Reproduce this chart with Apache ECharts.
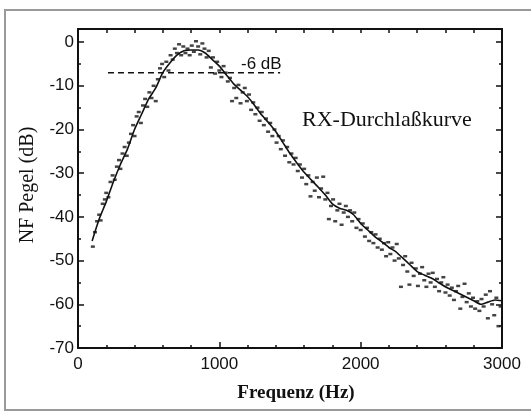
<!DOCTYPE html>
<html><head><meta charset="utf-8">
<script src="https://cdn.jsdelivr.net/npm/echarts@6/dist/echarts.min.js"></script>
<style>html,body{margin:0;padding:0;background:#fff}#c{width:531px;height:412px}</style>
</head><body><div id="c"></div>
<script>
// smoothed curve
const lineFreq = [100,150,200,250,300,350,400,450,500,550,600,650,700,750,800,850,900,950,1000,1050,1100,1150,1200,1250,1300,1350,1400,1450,1500,1550,1600,1650,1700,1750,1800,1850,1900,1950,2000,2050,2100,2150,2200,2250,2300,2350,2400,2450,2500,2550,2600,2650,2700,2750,2800,2850,2900,2950,3000];
const lineLevel = [-45.5,-40.5,-36.5,-32,-28,-24.5,-20,-16.5,-13,-10.5,-7,-4.8,-3,-2,-1.8,-1.8,-2.5,-4,-5.5,-7.5,-9.5,-11,-12.5,-14.5,-16.7,-18.5,-20.5,-23,-25.5,-27.7,-29.8,-31.5,-33.2,-35,-37,-38,-38.5,-39.5,-41.5,-43,-44.5,-45.7,-47,-48,-49.5,-51,-52.5,-53.3,-54,-55,-56,-56.8,-57.6,-58.4,-59.2,-60,-59.5,-59,-59.2];
// measured points
const dotFreq = [105,120,135,150,160,175,190,200,215,230,245,260,275,290,300,315,330,345,360,375,390,400,415,430,445,460,475,490,505,520,535,550,565,580,595,610,625,640,655,670,685,700,715,730,745,760,775,790,805,820,835,850,865,880,895,910,925,940,955,970,985,1000,1015,1030,1045,1060,1075,1090,1105,1120,1135,1150,1165,1180,1195,1210,1225,1240,1255,1270,1285,1300,1315,1330,1345,1360,1375,1390,1405,1420,1435,1450,1465,1480,1495,1510,1525,1540,1555,1570,1585,1600,1615,1630,1645,1660,1675,1690,1705,1720,1735,1750,1765,1775,1790,1805,1820,1835,1850,1865,1880,1895,1910,1925,1940,1955,1970,1985,2000,2015,2030,2045,2060,2075,2090,2105,2120,2135,2150,2165,2180,2195,2210,2225,2240,2255,2270,2285,2300,2315,2330,2345,2360,2375,2390,2405,2420,2435,2450,2465,2480,2495,2510,2525,2540,2555,2570,2585,2600,2615,2630,2645,2660,2675,2690,2705,2720,2735,2750,2765,2780,2795,2810,2825,2840,2855,2870,2885,2900,2915,2930,2945,2960,2975,2990];
const dotLevel = [-46.8,-43.5,-41,-39.5,-40.8,-37,-36,-34.5,-35.5,-32,-30.5,-31.5,-28.5,-27,-29,-25.5,-24,-26,-23,-21,-19,-21.5,-17,-16,-18.5,-14.5,-13,-14.8,-11.5,-12.8,-10,-13.5,-8.5,-6,-5,-8,-4.5,-6.5,-3,-4,-1.5,-2.5,-0.5,-3,-1,-2.5,-1.5,-3,-0.8,-2.2,0.2,-1,-2.8,-0.3,-1.5,-3.5,-2,-5.8,-3.5,-7.2,-4.5,-6.5,-8,-5.5,-7,-9,-8.2,-13.5,-10.5,-12.8,-9.8,-14,-11.5,-10.5,-13.5,-12,-15.5,-13.8,-16.5,-15,-18,-16,-19,-17.5,-20.5,-18.5,-21.5,-20,-23,-21.5,-24.5,-22.5,-26,-24,-27.5,-25.5,-28,-26.5,-29.5,-28,-31,-29,-32.5,-30.5,-35.3,-32,-34,-31,-35.5,-33.5,-30.8,-36,-34.5,-40.5,-37.5,-36,-41,-38.5,-37,-41.8,-39,-37.5,-40,-38.5,-41,-39,-42.5,-40.5,-43,-41.5,-44.5,-42.5,-45.5,-43.5,-46,-44,-47,-45,-47.5,-46,-49,-45.8,-48.5,-47,-50,-46.2,-49.5,-56,-51,-49,-52.5,-55.5,-50.5,-53.5,-51.8,-55.8,-53,-51.5,-54.5,-56,-53,-55,-52.8,-56,-54.2,-57,-55,-53.8,-57.3,-55.5,-58,-56.2,-59,-57,-55.8,-61,-58.3,-55.3,-59.5,-57.5,-60.5,-58.5,-61,-59.3,-61.5,-58.8,-60.5,-57.8,-63.2,-57,-60,-62.5,-58.5,-65,-60.5];
// -6 dB reference
const refFreq = [212,1430];
const refLevel = [-7,-7];
const xTicks = [0,1000,2000,3000];

const zip = (a,b)=>a.map((v,i)=>[v,b[i]]);
const chart = echarts.init(document.getElementById('c'), null, {renderer:'canvas'});
const labelFont = {fontFamily:'"Liberation Sans", Arial, sans-serif', fontSize:17, color:'#111'};
const axisCommon = {
  axisLine:{show:true, onZero:false, lineStyle:{color:'#111', width:2}},
  splitLine:{show:false},
};
chart.setOption({
  animation:false,
  backgroundColor:'#fff',
  grid:{left:78, right:29, top:29, bottom:64},
  xAxis:[
    Object.assign({type:'value', min:0, max:3000, interval:1000, position:'bottom',
      axisTick:{inside:true, length:6, lineStyle:{color:'#111', width:1.5}},
      minorTick:{show:true, splitNumber:5, length:3, lineStyle:{color:'#111', width:1.5}},
      axisLabel:Object.assign({margin:8, formatter:v=>xTicks.includes(v)?String(v):''}, labelFont)}, axisCommon),
    Object.assign({type:'value', min:0, max:3000, interval:1000, position:'top',
      axisTick:{inside:true, length:4, lineStyle:{color:'#111', width:1.5}},
      minorTick:{show:true, splitNumber:5, length:4, lineStyle:{color:'#111', width:1.5}},
      axisLabel:{show:false}}, axisCommon)
  ],
  yAxis:[
    Object.assign({type:'value', min:-70, max:3, interval:10, position:'left',
      axisTick:{inside:true, length:6, lineStyle:{color:'#111', width:1.5}},
      minorTick:{show:true, splitNumber:2, length:3, lineStyle:{color:'#111', width:1.5}},
      axisLabel:Object.assign({margin:4, showMaxLabel:false, formatter:v=>(v%10===0)?String(v):''}, labelFont)}, axisCommon),
    Object.assign({type:'value', min:-70, max:3, interval:10, position:'right',
      axisTick:{inside:true, length:6, lineStyle:{color:'#111', width:1.5}},
      minorTick:{show:true, splitNumber:2, length:3, lineStyle:{color:'#111', width:1.5}},
      axisLabel:{show:false}}, axisCommon)
  ],
  series:[
    {type:'scatter', xAxisIndex:0, yAxisIndex:0, data:zip(dotFreq,dotLevel), symbol:'rect', symbolSize:[4,2.5],
      itemStyle:{color:'#151515'}, silent:true},
    {type:'line', xAxisIndex:0, yAxisIndex:0, data:zip(lineFreq,lineLevel), showSymbol:false, smooth:0.2,
      lineStyle:{color:'#111', width:1.6}, silent:true},
    {type:'line', xAxisIndex:0, yAxisIndex:0, data:zip(refFreq,refLevel), showSymbol:false,
      lineStyle:{color:'#111', width:1.5, type:[6,4]}, silent:true}
  ],
  graphic:[
    {type:'rect', z:-10, shape:{x:5, y:10, width:560, height:400}, style:{fill:null, stroke:'#9a9a9a', lineWidth:2}},
    {type:'text', x:296, y:393, style:{text:'Frequenz (Hz)', font:'bold 19px "Liberation Serif", serif', textAlign:'center', textVerticalAlign:'middle', fill:'#111'}},
    {type:'text', x:28, y:185, rotation:Math.PI/2, style:{text:'NF Pegel (dB)', font:'20px "Liberation Serif", serif', textAlign:'center', textVerticalAlign:'middle', fill:'#111'}},
    {type:'text', x:302, y:120, style:{text:'RX-Durchlaßkurve', font:'22px "Liberation Serif", serif', textAlign:'left', textVerticalAlign:'middle', fill:'#111'}},
    {type:'text', x:241, y:64, style:{text:'-6 dB', font:'17px "Liberation Sans", Arial, sans-serif', textAlign:'left', textVerticalAlign:'middle', fill:'#111'}}
  ]
});
</script></body></html>
